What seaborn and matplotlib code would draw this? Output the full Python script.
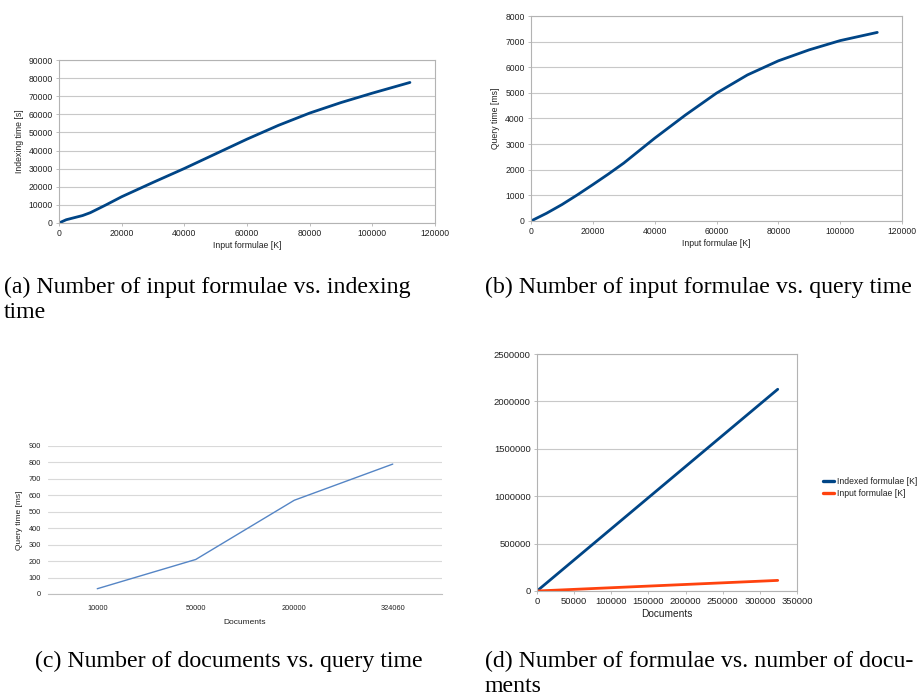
import matplotlib
matplotlib.use("Agg")
import matplotlib.pyplot as plt
import seaborn as sns
import pandas as pd
from matplotlib.lines import Line2D

# ---------------- data ----------------
# (a) input formulae [K] vs indexing time [s]
a_formulae = [0, 2300, 5000, 7500, 10000, 15000, 20000, 30000, 40000, 50000, 60000, 70000, 80000, 90000, 100000, 112000]
a_index_time = [0, 1800, 3000, 4100, 5700, 10000, 14500, 22400, 30100, 38200, 46300, 53900, 60700, 66500, 71700, 77600]

# (b) input formulae [K] vs query time [ms]
b_formulae = [0, 5000, 10000, 15000, 20000, 25000, 30000, 40000, 50000, 60000, 70000, 80000, 90000, 100000, 112000]
b_query_time = [0, 300, 640, 1020, 1420, 1830, 2260, 3230, 4140, 4990, 5700, 6250, 6680, 7040, 7360]

# (c) documents vs query time [ms]
c_documents = ["10000", "50000", "200000", "324060"]
c_query_time = [32, 210, 570, 790]

# (d) documents vs formulae
d_documents = [0, 324060]
d_indexed = [0, 2128000]
d_input = [0, 111800]

a_xticks = [0, 20000, 40000, 60000, 80000, 100000, 120000]
a_yticks = [0, 10000, 20000, 30000, 40000, 50000, 60000, 70000, 80000, 90000]
b_yticks = [0, 1000, 2000, 3000, 4000, 5000, 6000, 7000, 8000]
c_yticks = [0, 100, 200, 300, 400, 500, 600, 700, 800, 900]
d_xticks = [0, 50000, 100000, 150000, 200000, 250000, 300000, 350000]
d_yticks = [0, 500000, 1000000, 1500000, 2000000, 2500000]

captions = {
    "a": ["(a) Number of input formulae vs. indexing", "time"],
    "b": ["(b) Number of input formulae vs. query time"],
    "c": ["(c) Number of documents vs. query time"],
    "d": ["(d) Number of formulae vs. number of docu-", "ments"],
}

# ---------------- style ----------------
sns.set_theme(style="white")
plt.rcParams["font.family"] = ["Liberation Sans", "DejaVu Sans"]

W, H = 923, 696
fig = plt.figure(figsize=(W / 100, H / 100), dpi=100)

BLUE = "#004586"
RED = "#ff420e"
GRID = "#c8c8c8"
TXT = "#222222"


def px_axes(l, t, r, b):
    return fig.add_axes([l / W, 1 - b / H, (r - l) / W, (b - t) / H])


def office_style(ax, fs):
    for s in ax.spines.values():
        s.set_color("#b3b3b3")
        s.set_linewidth(0.8)
    ax.yaxis.grid(True, color=GRID, linewidth=0.8)
    ax.xaxis.grid(False)
    ax.set_axisbelow(True)
    ax.tick_params(axis="both", which="major", length=2.5, width=0.6, color="#b3b3b3",
                   labelsize=fs, labelcolor=TXT, pad=2, direction="out",
                   bottom=True, left=True)


# ---- (a)
ax_a = px_axes(59, 60, 435, 223)
sns.lineplot(x=a_formulae, y=a_index_time, ax=ax_a, color=BLUE, linewidth=2.0)
ax_a.set_xlim(0, 120000)
ax_a.set_ylim(0, 90000)
ax_a.set_xticks(a_xticks)
ax_a.set_yticks(a_yticks)
office_style(ax_a, 6.2)
ax_a.set_xlabel("Input formulae [K]", fontsize=6.2, color=TXT, labelpad=2)
ax_a.set_ylabel("Indexing time [s]", fontsize=6.2, color=TXT, labelpad=3)

# ---- (b)
ax_b = px_axes(531, 16, 902, 221)
sns.lineplot(x=b_formulae, y=b_query_time, ax=ax_b, color=BLUE, linewidth=2.0)
ax_b.set_xlim(0, 120000)
ax_b.set_ylim(0, 8000)
ax_b.set_xticks(a_xticks)
ax_b.set_yticks(b_yticks)
office_style(ax_b, 6.2)
ax_b.set_xlabel("Input formulae [K]", fontsize=6.2, color=TXT, labelpad=2)
ax_b.set_ylabel("Query time [ms]", fontsize=6.2, color=TXT, labelpad=4)

# ---- (c)
ax_c = px_axes(48, 446, 442, 594)
df_c = pd.DataFrame({"Documents": c_documents, "Query time [ms]": c_query_time})
sns.lineplot(data=df_c, x="Documents", y="Query time [ms]", ax=ax_c, color="#5585c5",
             linewidth=1.0, sort=False)
ax_c.set_xlim(-0.5, 3.5)
ax_c.set_ylim(0, 900)
ax_c.set_yticks(c_yticks)
for k in ["left", "top", "right"]:
    ax_c.spines[k].set_visible(False)
ax_c.spines["bottom"].set_color("#bfbfbf")
ax_c.spines["bottom"].set_linewidth(0.8)
ax_c.yaxis.grid(True, color="#d9d9d9", linewidth=0.8)
ax_c.set_axisbelow(True)
ax_c.tick_params(axis="both", length=0, labelsize=5.3, labelcolor=TXT, pad=5)
ax_c.tick_params(axis="x", pad=8)
ax_c.set_xlabel("Documents", fontsize=6, color=TXT, labelpad=5)
ax_c.set_ylabel("Query time [ms]", fontsize=6, color=TXT, labelpad=4)

# ---- (d)
ax_d = px_axes(537, 354, 797, 591)
df_d = pd.DataFrame({
    "Documents": d_documents * 2,
    "value": d_indexed + d_input,
    "series": ["Indexed formulae [K]"] * len(d_documents) + ["Input formulae [K]"] * len(d_documents),
})
sns.lineplot(data=df_d, x="Documents", y="value", hue="series", ax=ax_d,
             palette=[BLUE, RED], linewidth=2.0, legend=False)
ax_d.set_xlim(0, 350000)
ax_d.set_ylim(0, 2500000)
ax_d.set_xticks(d_xticks)
ax_d.set_yticks(d_yticks)
office_style(ax_d, 6.8)
ax_d.set_xlabel("Documents", fontsize=7.3, color=TXT, labelpad=2)
ax_d.set_ylabel("")
handles = [Line2D([], [], color=BLUE, linewidth=2.4), Line2D([], [], color=RED, linewidth=2.4)]
fig.legend(handles, ["Indexed formulae [K]", "Input formulae [K]"],
           loc="upper left", bbox_to_anchor=(823 / W, 1 - 477 / H), frameon=False,
           fontsize=6.2, handlelength=1.3, handletextpad=0.3, labelspacing=0.3,
           borderpad=0, borderaxespad=0, labelcolor=TXT)

for ax in (ax_a, ax_b, ax_d):
    ax.ticklabel_format(style="plain", useOffset=False)

# ---- captions
CAP = dict(fontsize=17.2, family=["Liberation Serif", "DejaVu Serif"], color="black",
           va="baseline", ha="left")
fig.text(4 / W, 1 - 293 / H, captions["a"][0], **CAP)
fig.text(4 / W, 1 - 318 / H, captions["a"][1], **CAP)
fig.text(485 / W, 1 - 293 / H, captions["b"][0], **CAP)
fig.text(35 / W, 1 - 667 / H, captions["c"][0], **CAP)
fig.text(485 / W, 1 - 667 / H, captions["d"][0], **CAP)
fig.text(485 / W, 1 - 692 / H, captions["d"][1], **CAP)

fig.savefig("out.png", dpi=100, facecolor="white")
